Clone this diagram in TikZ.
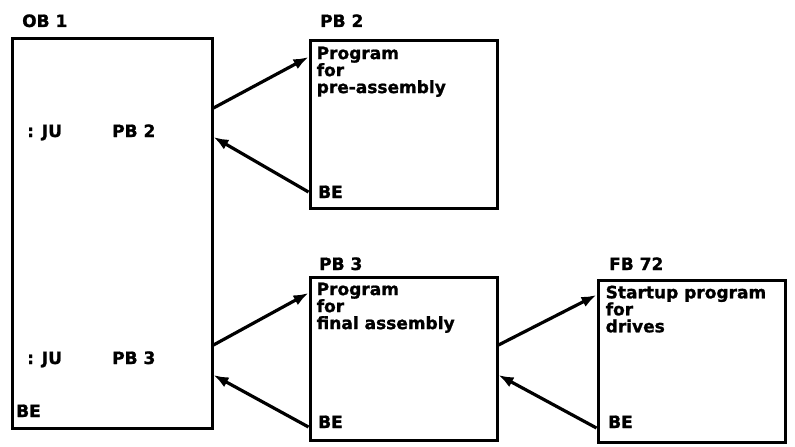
\documentclass[tikz,border=0pt]{standalone}
\usepackage{fontspec}
\setmainfont{DejaVu Sans}[BoldFeatures={FakeBold=1.2}]
\usetikzlibrary{arrows.meta, positioning}

\begin{document}
\begin{tikzpicture}[x=1pt, y=-1pt, font=\fontsize{17}{17}\selectfont\bfseries,
  blk/.style={draw, line width=3pt, inner sep=0pt, minimum width=187pt},
  txt/.style={anchor=base west, inner sep=0pt},
  lines/.style={anchor=north west, inner sep=0pt, align=left},
  jmp/.style={line width=3.2pt, -{Latex[length=15pt,width=11pt]}}]
\useasboundingbox (0,0) rectangle (795,447);
\node[blk, minimum width=200pt, minimum height=390pt] (ob1) at (112,233) {};
\node[blk, minimum height=168pt] (pb2) at (403.5,124) {};
\node[blk, minimum height=163pt] (pb3) at (403.5,358.5) {};
\node[blk, minimum height=162pt] (fb72) at (691.5,361) {};
\node[txt] (ob1t) at (22,27) {OB 1};
\node[txt] (pb2t) at (320,27) {PB 2};
\node[txt] (pb3t) at (319,270) {PB 3};
\node[txt] (fb72t) at (609,270) {FB 72};
\node[txt] (ju1) at (27,137) {: JU};
\node[txt] (ju1b) at (112,137) {PB 2};
\node[txt] (ju2) at (27,364) {: JU};
\node[txt] (ju2b) at (112,364) {PB 3};
\node[txt] (ob1e) at (16,417) {BE};
\node[lines] (pb2x) at ([xshift=8pt,yshift=-8pt]pb2.north west) {Program\\for\\pre-assembly};
\node[txt] (pb2e) at (318,198) {BE};
\node[lines] (pb3x) at ([xshift=8pt,yshift=-7pt]pb3.north west) {Program\\for\\final assembly};
\node[txt] (pb3e) at (318,428) {BE};
\node[lines] (fb72x) at ([xshift=9pt,yshift=-7pt]fb72.north west) {Startup program\\for\\drives};
\node[txt] (fb72e) at (608,428) {BE};
\draw[jmp] (ob1.east |- 0,108) -- (pb2.west |- 0,57);
\draw[jmp] (pb2.west |- 0,192) -- (ob1.east |- 0,137);
\draw[jmp] (ob1.east |- 0,345) -- (pb3.west |- 0,293);
\draw[jmp] (pb3.west |- 0,427) -- (ob1.east |- 0,375);
\draw[jmp] (pb3.east |- 0,345) -- (fb72.west |- 0,295);
\draw[jmp] (fb72.west |- 0,428) -- (pb3.east |- 0,375);
\end{tikzpicture}
\end{document}
